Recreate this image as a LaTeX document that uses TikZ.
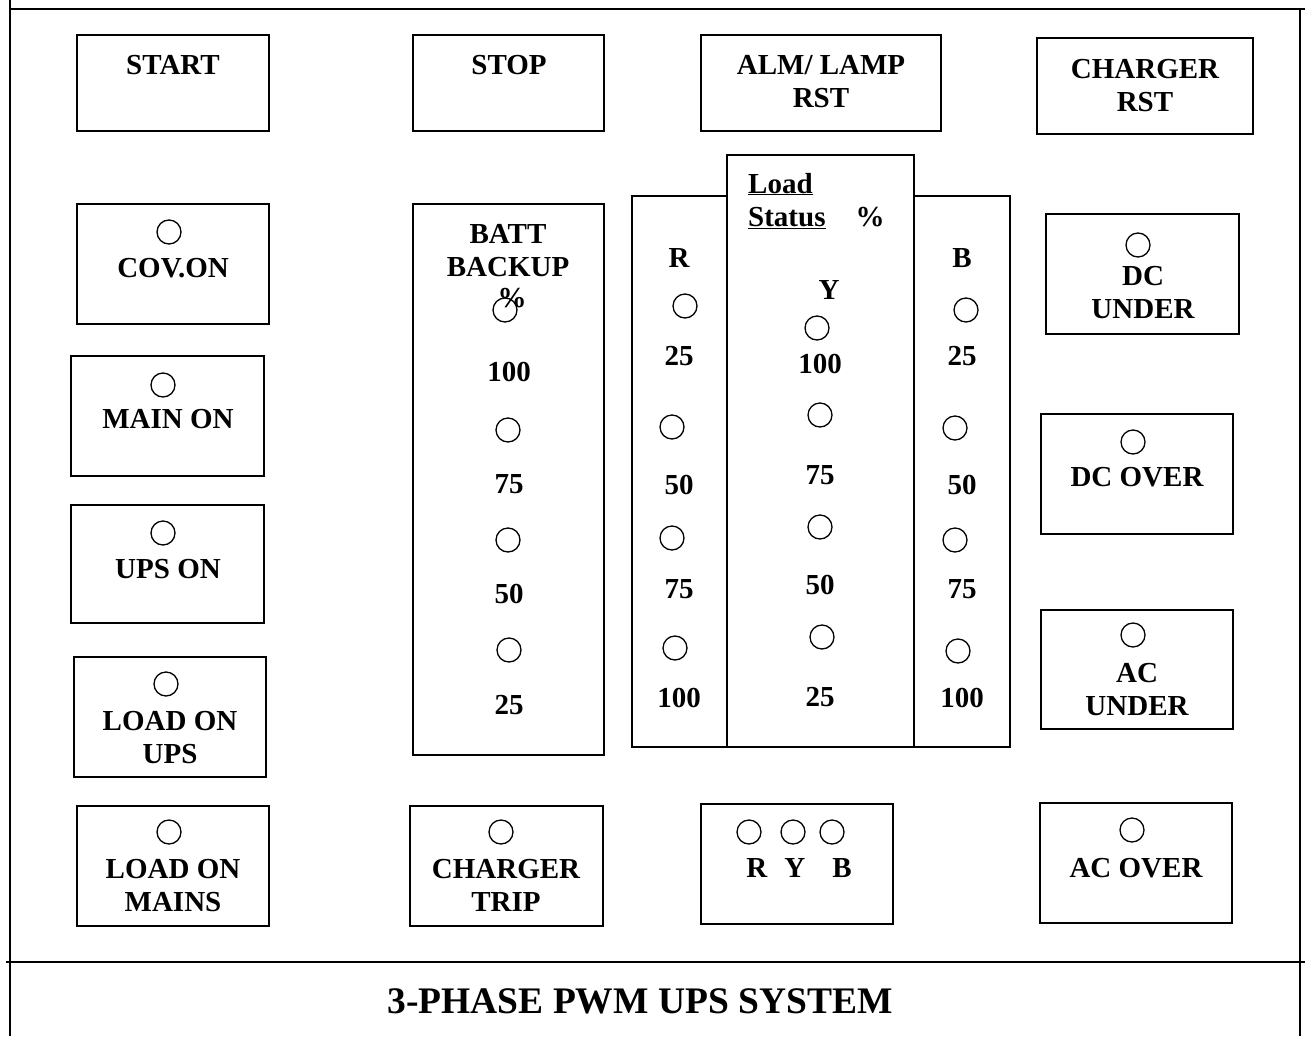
\documentclass[tikz,border=0pt]{standalone}
\usepackage{fontspec}
\setmainfont{Liberation Serif}

\tikzset{
  panel/.style={draw, line width=1.5pt},
  lamp/.style={draw, line width=1.3pt},
  lbl/.style={font=\fontsize{29}{33}\selectfont\bfseries, inner sep=0pt, anchor=base, align=center},
}

\begin{document}
\begin{tikzpicture}[x=1pt,y=-1pt]

	\useasboundingbox (0,0) rectangle (1305,1036);

	% Marco
	\draw [line width=2.2pt] (10,0) -- (10,1036);
	\draw [line width=2.2pt] (10,9) -- (1305,9);
	\draw [line width=2.2pt] (1300,9) -- (1300,1036);
	\draw [line width=2.2pt] (6,962) -- (1305,962);
	\node [lbl, font=\fontsize{37.5}{40}\selectfont\bfseries] (title) at (640,1013) {3-PHASE PWM UPS SYSTEM};

	% Pulsadores
	\draw [panel] (77,35) rectangle (269,131);
	\node [lbl] (start) at (173,74) {START};
	\draw [panel] (413,35) rectangle (604,131);
	\node [lbl] (stop) at (509,74) {STOP};
	\draw [panel] (701,35) rectangle (941,131);
	\node [lbl] (almrst) at (821,107) {ALM/ LAMP\\RST};
	\draw [panel] (1037,38) rectangle (1253,134);
	\node [lbl] (chgrst) at (1145,111) {CHARGER\\RST};

	% Columna izquierda
	\draw [panel] (77,204) rectangle (269,324);
	\draw [lamp] (169,232) circle [radius=12pt];
	\node [lbl] (covon) at (173,277) {COV.ON};
	\draw [panel] (71,356) rectangle (264,476);
	\draw [lamp] (163,385) circle [radius=12pt];
	\node [lbl] (mainon) at (168,428) {MAIN ON};
	\draw [panel] (71,505) rectangle (264,623);
	\draw [lamp] (163,533) circle [radius=12pt];
	\node [lbl] (upson) at (168,578) {UPS ON};
	\draw [panel] (74,657) rectangle (266,777);
	\draw [lamp] (166,684) circle [radius=12pt];
	\node [lbl] (loadups) at (170,763) {LOAD ON\\UPS};
	\draw [panel] (77,806) rectangle (269,926);
	\draw [lamp] (169,832) circle [radius=12pt];
	\node [lbl] (loadmains) at (173,911) {LOAD ON\\MAINS};

	% Respaldo bateria
	\draw [panel] (413,204) rectangle (604,755);
	\node [lbl] (batt) at (508,276) {BATT\\BACKUP};
	\node [lbl] (battpc) at (512,307) {\%};
	\draw [lamp] (505,310) circle [radius=12pt];
	\node [lbl] (b100) at (509,381) {100};
	\draw [lamp] (508,430) circle [radius=12pt];
	\node [lbl] (b75) at (509,493) {75};
	\draw [lamp] (508,540) circle [radius=12pt];
	\node [lbl] (b50) at (509,603) {50};
	\draw [lamp] (509,650) circle [radius=12pt];
	\node [lbl] (b25) at (509,714) {25};

	% Estado de carga
	\draw [panel] (632,196) rectangle (727,747);
	\draw [panel] (914,196) rectangle (1010,747);
	\draw [panel, fill=white] (727,155) rectangle (914,747);
	\node [lbl, anchor=base west] (load) at (748,193) {\underline{Load}};
	\node [lbl, anchor=base west] (status) at (748,226) {\underline{Status}};
	\node [lbl] (loadpc) at (870,226) {\%};

	% Fase R
	\node [lbl] (rph) at (679,267) {R};
	\draw [lamp] (685,306) circle [radius=12pt];
	\node [lbl] (r25) at (679,365) {25};
	\draw [lamp] (672,427) circle [radius=12pt];
	\node [lbl] (r50) at (679,494) {50};
	\draw [lamp] (672,538) circle [radius=12pt];
	\node [lbl] (r75) at (679,598) {75};
	\draw [lamp] (675,648) circle [radius=12pt];
	\node [lbl] (r100) at (679,707) {100};

	% Fase Y
	\node [lbl] (yph) at (829,299) {Y};
	\draw [lamp] (817,328) circle [radius=12pt];
	\node [lbl] (y100) at (820,373) {100};
	\draw [lamp] (820,415) circle [radius=12pt];
	\node [lbl] (y75) at (820,484) {75};
	\draw [lamp] (820,527) circle [radius=12pt];
	\node [lbl] (y50) at (820,594) {50};
	\draw [lamp] (822,637) circle [radius=12pt];
	\node [lbl] (y25) at (820,706) {25};

	% Fase B
	\node [lbl] (bph) at (962,267) {B};
	\draw [lamp] (966,310) circle [radius=12pt];
	\node [lbl] (bb25) at (962,365) {25};
	\draw [lamp] (955,428) circle [radius=12pt];
	\node [lbl] (bb50) at (962,494) {50};
	\draw [lamp] (955,540) circle [radius=12pt];
	\node [lbl] (bb75) at (962,598) {75};
	\draw [lamp] (958,651) circle [radius=12pt];
	\node [lbl] (bb100) at (962,707) {100};

	% Columna derecha
	\draw [panel] (1046,214) rectangle (1239,334);
	\draw [lamp] (1138,245) circle [radius=12pt];
	\node [lbl] (dcunder) at (1143,318) {DC\\UNDER};
	\draw [panel] (1041,414) rectangle (1233,534);
	\draw [lamp] (1133,442) circle [radius=12pt];
	\node [lbl] (dcover) at (1137,486) {DC OVER};
	\draw [panel] (1041,610) rectangle (1233,729);
	\draw [lamp] (1133,635) circle [radius=12pt];
	\node [lbl] (acunder) at (1137,715) {AC\\UNDER};
	\draw [panel] (1040,803) rectangle (1232,923);
	\draw [lamp] (1132,830) circle [radius=12pt];
	\node [lbl] (acover) at (1136,877) {AC OVER};

	% Fila inferior
	\draw [panel] (410,806) rectangle (603,926);
	\draw [lamp] (501,832) circle [radius=12pt];
	\node [lbl] (chgtrip) at (506,911) {CHARGER\\TRIP};
	\draw [panel] (701,804) rectangle (893,924);
	\draw [lamp] (749,832) circle [radius=12pt];
	\draw [lamp] (793,832) circle [radius=12pt];
	\draw [lamp] (832,832) circle [radius=12pt];
	\node [lbl] (ryb) at (799,877) {R\hspace{17pt}Y\hspace{27pt}B};
\end{tikzpicture}
\end{document}
